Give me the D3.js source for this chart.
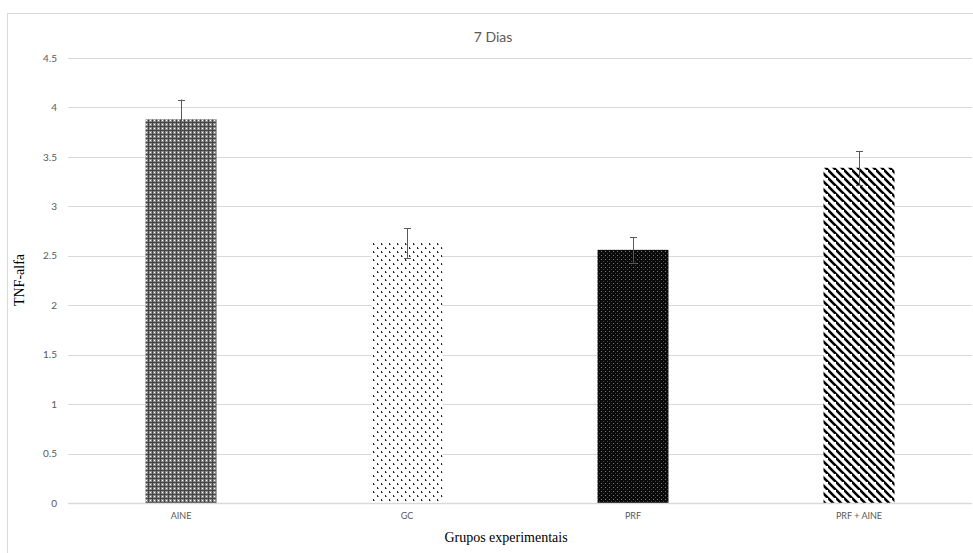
<!DOCTYPE html>
<html>
<head>
<meta charset="utf-8">
<script src="https://cdn.jsdelivr.net/npm/d3@7"></script>
<style>
  body { margin: 0; background: #fff; }
  svg { display: block; }
</style>
</head>
<body>
<div id="chart"></div>
<script>
// data
var grupos = ["AINE", "GC", "PRF", "PRF + AINE"];
var medias = [3.88, 2.63, 2.56, 3.39];
var erros = [0.2, 0.15, 0.13, 0.17];
var padroes = ["pAine", "pGc", "pPrf", "pPrfAine"];
var yTicks = [0, 0.5, 1, 1.5, 2, 2.5, 3, 3.5, 4, 4.5];

var W = 973, H = 553;
var margin = {top: 58, right: 1, bottom: 50, left: 68};
var width = W - margin.left - margin.right,
    height = H - margin.top - margin.bottom;

var svg = d3.select("#chart").append("svg")
    .attr("width", W).attr("height", H);

// outer chart border (cut at right/bottom like the reference)
svg.append("rect")
    .attr("x", 7.5).attr("y", 13.5)
    .attr("width", W).attr("height", H)
    .attr("fill", "none").attr("stroke", "#d9d9d9");

// fill patterns
var defs = svg.append("defs");

// AINE : plaid cinza
var p1 = defs.append("pattern").attr("id", "pAine")
    .attr("patternUnits", "userSpaceOnUse").attr("width", 4).attr("height", 4);
p1.append("rect").attr("width", 4).attr("height", 4).attr("fill", "#8c8c8c");
p1.append("rect").attr("x", 0).attr("width", 1).attr("height", 4).attr("fill", "#444");
p1.append("rect").attr("y", 0).attr("width", 4).attr("height", 1).attr("fill", "#444");
p1.append("rect").attr("x", 2).attr("y", 2).attr("width", 1).attr("height", 1).attr("fill", "#ffffff");

// GC : pontos esparsos
var p2 = defs.append("pattern").attr("id", "pGc")
    .attr("patternUnits", "userSpaceOnUse").attr("width", 8).attr("height", 8);
p2.append("rect").attr("width", 8).attr("height", 8).attr("fill", "#fff");
p2.append("rect").attr("x", 1).attr("y", 1).attr("width", 1).attr("height", 2).attr("fill", "#222");
p2.append("rect").attr("x", 5).attr("y", 5).attr("width", 1).attr("height", 2).attr("fill", "#222");
p2.append("rect").attr("x", 2).attr("y", 2).attr("width", 1).attr("height", 1).attr("fill", "#888");
p2.append("rect").attr("x", 6).attr("y", 6).attr("width", 1).attr("height", 1).attr("fill", "#888");

// PRF : preto com pontos cinza
var p3 = defs.append("pattern").attr("id", "pPrf")
    .attr("patternUnits", "userSpaceOnUse").attr("width", 4).attr("height", 4);
p3.append("rect").attr("width", 4).attr("height", 4).attr("fill", "#0a0a0a");
p3.append("rect").attr("x", 1).attr("y", 1).attr("width", 1).attr("height", 1).attr("fill", "#7a7a7a");
p3.append("rect").attr("x", 3).attr("y", 3).attr("width", 1).attr("height", 1).attr("fill", "#444");

// PRF + AINE : listras diagonais
var p4 = defs.append("pattern").attr("id", "pPrfAine")
    .attr("patternUnits", "userSpaceOnUse").attr("width", 8).attr("height", 8);
p4.append("rect").attr("width", 8).attr("height", 8).attr("fill", "#fff");
p4.append("path").attr("d", "M-2,-2 L10,10 M-6,2 L2,10 M6,-6 L14,2")
    .attr("stroke", "#000").attr("stroke-width", 2.6);

var g = svg.append("g")
    .attr("transform", "translate(" + margin.left + "," + margin.top + ")");

var x = d3.scaleBand().domain(grupos).range([0, width]).paddingInner(0.686).paddingOuter(0.343);
var y = d3.scaleLinear().domain([0, 4.5]).range([height, 0]);

// gridlines
g.selectAll(".grid").data(yTicks.filter(function (d) { return d > 0; }))
    .enter().append("line")
    .attr("x1", 0).attr("x2", width)
    .attr("y1", function (d) { return Math.round(y(d)) + 0.5; })
    .attr("y2", function (d) { return Math.round(y(d)) + 0.5; })
    .attr("stroke", "#d9d9d9");

// y axis labels
var yAxis = d3.axisLeft(y).tickValues(yTicks).tickSize(0).tickPadding(11)
    .tickFormat(function (d) { return String(d); });
g.append("g").call(yAxis)
    .call(function (s) { s.select(".domain").remove(); })
    .selectAll("text")
    .attr("fill", "#595959")
    .style("font-family", "Lato, 'Open Sans', sans-serif")
    .style("font-size", "10px");

// bars
g.selectAll(".bar").data(grupos).enter().append("rect")
    .attr("x", function (d) { return x(d); })
    .attr("y", function (d, i) { return y(medias[i]); })
    .attr("width", x.bandwidth())
    .attr("height", function (d, i) { return height - y(medias[i]); })
    .attr("fill", function (d, i) { return "url(#" + padroes[i] + ")"; });

// baseline
g.append("line")
    .attr("x1", 0).attr("x2", width)
    .attr("y1", height + 0.5).attr("y2", height + 0.5)
    .attr("stroke", "#d9d9d9").attr("stroke-width", 1.5);

// error bars
var eb = g.selectAll(".err").data(grupos).enter().append("g")
    .attr("stroke", "#595959").attr("stroke-width", 1);
eb.append("line")
    .attr("x1", function (d) { return Math.round(x(d) + x.bandwidth() / 2) + 0.5; })
    .attr("x2", function (d) { return Math.round(x(d) + x.bandwidth() / 2) + 0.5; })
    .attr("y1", function (d, i) { return y(medias[i] - erros[i]); })
    .attr("y2", function (d, i) { return y(medias[i] + erros[i]); });
eb.append("line")
    .attr("x1", function (d) { return Math.round(x(d) + x.bandwidth() / 2) - 3; })
    .attr("x2", function (d) { return Math.round(x(d) + x.bandwidth() / 2) + 4; })
    .attr("y1", function (d, i) { return Math.round(y(medias[i] + erros[i])) + 0.5; })
    .attr("y2", function (d, i) { return Math.round(y(medias[i] + erros[i])) + 0.5; });
eb.append("line")
    .attr("x1", function (d) { return Math.round(x(d) + x.bandwidth() / 2) - 3; })
    .attr("x2", function (d) { return Math.round(x(d) + x.bandwidth() / 2) + 4; })
    .attr("y1", function (d, i) { return Math.round(y(medias[i] - erros[i])) + 0.5; })
    .attr("y2", function (d, i) { return Math.round(y(medias[i] - erros[i])) + 0.5; });

// x axis labels
var xAxis = d3.axisBottom(x).tickSize(0).tickPadding(10);
g.append("g").attr("transform", "translate(0," + height + ")").call(xAxis)
    .call(function (s) { s.select(".domain").remove(); })
    .selectAll("text")
    .attr("fill", "#595959")
    .style("font-family", "Lato, 'Open Sans', sans-serif")
    .style("font-size", "9px");

// title
svg.append("text")
    .attr("x", 493).attr("y", 42)
    .attr("text-anchor", "middle")
    .attr("fill", "#595959")
    .style("font-family", "Lato, 'Open Sans', sans-serif")
    .style("font-size", "14px")
    .text("7 Dias");

// axis titles
svg.append("text")
    .attr("transform", "translate(24,280) rotate(-90)")
    .attr("text-anchor", "middle")
    .style("font-family", "'Liberation Serif', 'Times New Roman', serif")
    .style("font-size", "14px")
    .attr("fill", "#000")
    .text("TNF-alfa");

svg.append("text")
    .attr("x", 506).attr("y", 542)
    .attr("text-anchor", "middle")
    .style("font-family", "'Liberation Serif', 'Times New Roman', serif")
    .style("font-size", "14px")
    .attr("fill", "#000")
    .text("Grupos experimentais");
</script>
</body>
</html>
